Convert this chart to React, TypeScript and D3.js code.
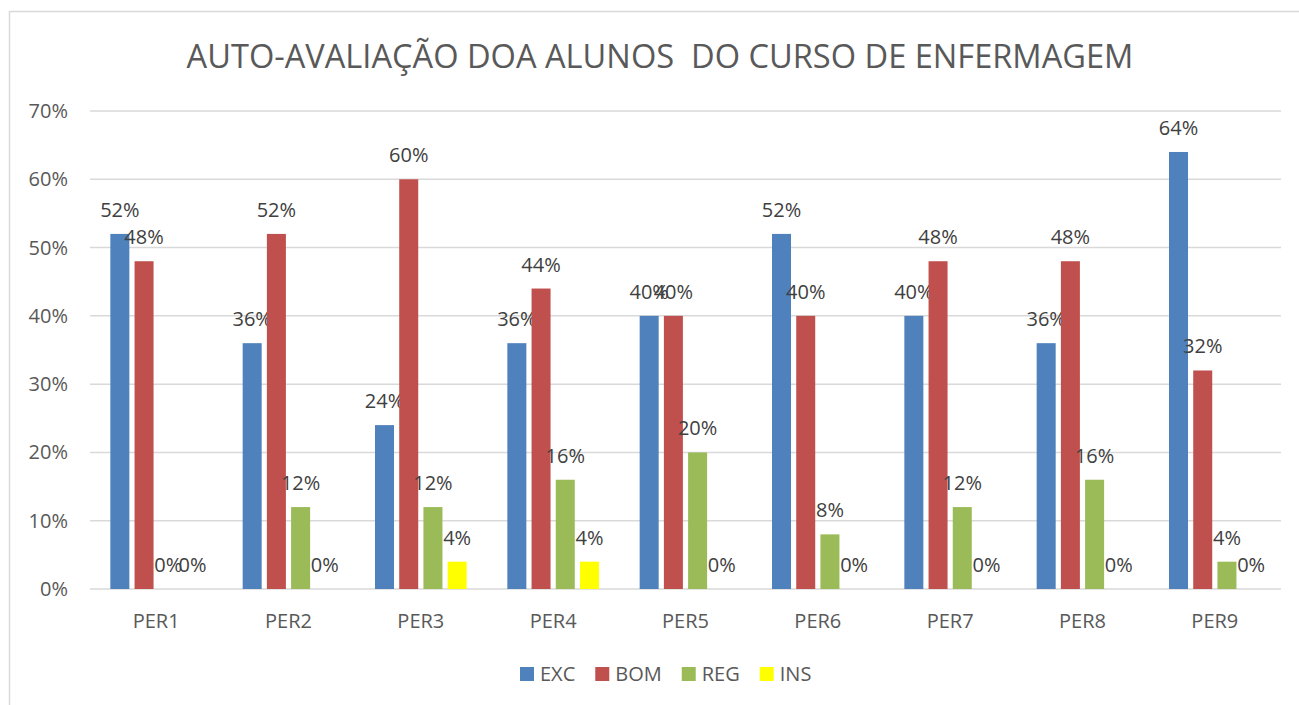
import React, { useEffect, useRef } from 'react';
import * as d3 from 'd3';

const categories = ['PER1', 'PER2', 'PER3', 'PER4', 'PER5', 'PER6', 'PER7', 'PER8', 'PER9'];
const seriesNames = ['EXC', 'BOM', 'REG', 'INS'];
const excValues = [52, 36, 24, 36, 40, 52, 40, 36, 64];
const bomValues = [48, 52, 60, 44, 40, 40, 48, 48, 32];
const regValues = [0, 12, 12, 16, 20, 8, 12, 16, 4];
const insValues = [0, 0, 4, 4, 0, 0, 0, 0, 0];
const yTicks = [0, 10, 20, 30, 40, 50, 60, 70];
const seriesColors = ['#4f81bd', '#c0504d', '#9bbb59', '#ffff00'];

const App = () => {
  const svgRef = useRef<SVGSVGElement>(null);

  useEffect(() => {
    const svg = d3.select(svgRef.current);
    svg.selectAll('*').remove();

    const font = '"Open Sans", sans-serif';
    const allValues = [excValues, bomValues, regValues, insValues];

    // chart border (cut off at right and bottom in the original)
    svg.append('rect')
      .attr('x', 9.5).attr('y', 11.5)
      .attr('width', 1320).attr('height', 720)
      .attr('fill', '#fff')
      .attr('stroke', '#d9d9d9')
      .attr('stroke-width', 1.5);

    // title
    svg.append('text')
      .attr('x', 660).attr('y', 68)
      .attr('text-anchor', 'middle')
      .style('white-space', 'pre')
      .style('font-family', font)
      .style('font-size', '32.6px')
      .style('fill', '#595959')
      .text('AUTO-AVALIAÇÃO DOA ALUNOS  DO CURSO DE ENFERMAGEM');

    const x0 = d3.scaleBand().domain(categories).range([90, 1281]);
    const x1 = d3.scaleBand().domain(seriesNames)
      .range([0, x0.bandwidth()])
      .paddingInner(0.215)
      .paddingOuter(0.84);
    const y = d3.scaleLinear().domain([0, 70]).range([589, 111]);

    // gridlines
    svg.append('g')
      .selectAll('line')
      .data(yTicks)
      .enter()
      .append('line')
      .attr('x1', 90).attr('x2', 1281)
      .attr('y1', d => y(d)).attr('y2', d => y(d))
      .attr('stroke', '#d9d9d9')
      .attr('stroke-width', 1.5);

    // y tick labels
    svg.append('g')
      .selectAll('text')
      .data(yTicks)
      .enter()
      .append('text')
      .attr('x', 68)
      .attr('y', d => y(d))
      .attr('dy', '0.35em')
      .attr('text-anchor', 'end')
      .style('font-family', font)
      .style('font-size', '20px')
      .style('fill', '#595959')
      .text(d => d + '%');

    // x labels
    svg.append('g')
      .selectAll('text')
      .data(categories)
      .enter()
      .append('text')
      .attr('x', d => (x0(d) as number) + x0.bandwidth() / 2)
      .attr('y', 628)
      .attr('text-anchor', 'middle')
      .style('font-family', font)
      .style('font-size', '20px')
      .style('fill', '#595959')
      .text(d => d);

    // bars and labels
    seriesNames.forEach((s, si) => {
      const g = svg.append('g');
      const rows = categories.map((c, i) => ({ c, v: allValues[si][i] }));

      g.selectAll('rect')
        .data(rows)
        .enter()
        .append('rect')
        .attr('x', d => (x0(d.c) as number) + (x1(s) as number))
        .attr('y', d => y(d.v))
        .attr('width', x1.bandwidth())
        .attr('height', d => y(0) - y(d.v))
        .attr('fill', seriesColors[si]);

      g.selectAll('text')
        .data(rows)
        .enter()
        .append('text')
        .attr('x', d => (x0(d.c) as number) + (x1(s) as number) + x1.bandwidth() / 2)
        .attr('y', d => y(d.v) - 17)
        .attr('text-anchor', 'middle')
        .style('font-family', font)
        .style('font-size', '20px')
        .style('fill', '#404040')
        .text(d => d.v + '%');
    });

    // legend
    const legend = svg.append('g');
    let lx = 520;
    seriesNames.forEach((s, si) => {
      legend.append('rect')
        .attr('x', lx).attr('y', 667)
        .attr('width', 14).attr('height', 14)
        .attr('fill', seriesColors[si]);
      const t = legend.append('text')
        .attr('x', lx + 20).attr('y', 681)
        .style('font-family', font)
        .style('font-size', '20px')
        .style('fill', '#595959')
        .text(s);
      const w = (t.node() as SVGTextElement).getComputedTextLength();
      lx += 20 + w + 20;
    });
  }, []);

  return (
    <div style={{ position: 'absolute', left: 0, top: 0 }}>
      <svg ref={svgRef} width={1299} height={705}></svg>
    </div>
  );
};

export default App;
